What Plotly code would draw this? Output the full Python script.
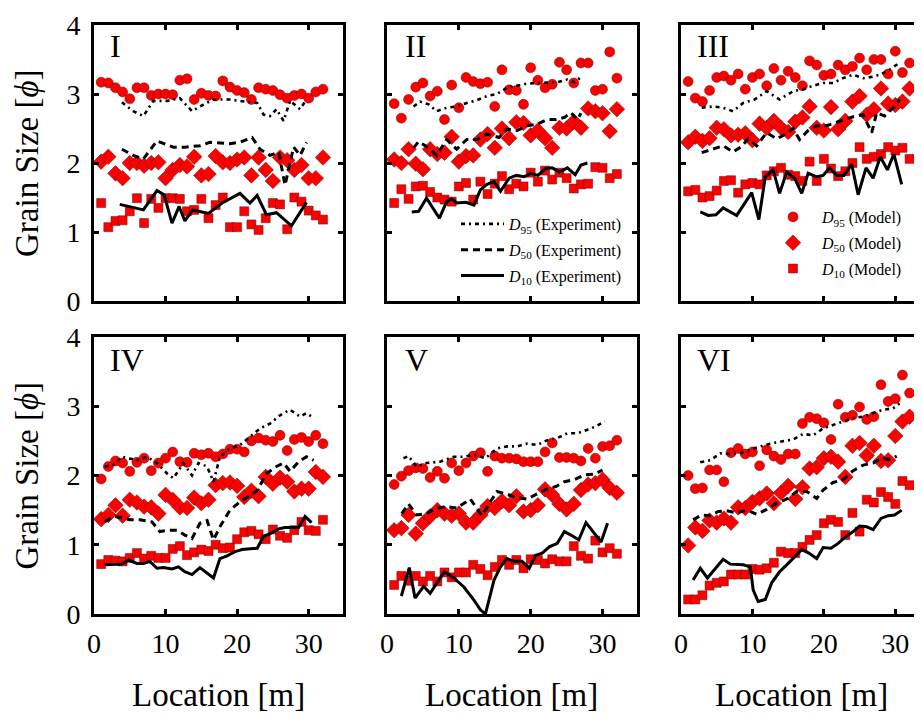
import plotly.graph_objects as go

# ---------------- data ----------------
LOC = [1, 2, 3, 4, 5, 6, 7, 8, 9, 10, 11, 12, 13, 14, 15, 16,
       17, 18, 19, 20, 21, 22, 23, 24, 25, 26, 27, 28, 29, 30, 31, 32]

# Panel I
I_M95 = [3.17,3.16,3.09,3.03,2.93,3.09,3.09,2.98,3.00,3.00,2.99,3.20,3.22,2.92,3.01,2.98,2.97,3.19,3.10,3.05,3.02,2.92,3.09,3.07,3.05,2.99,2.94,2.98,3.00,2.94,3.03,3.07]
I_M50 = [2.02,2.09,1.85,1.78,2.00,2.00,1.96,2.00,2.01,1.78,1.90,1.97,1.95,2.09,1.82,1.84,2.10,2.01,2.00,2.05,2.08,1.82,2.08,1.90,1.74,2.08,2.04,1.90,1.97,1.78,1.78,2.08]
I_M10 = [1.42,1.07,1.16,1.17,1.30,1.49,1.13,1.48,1.35,1.49,1.49,1.48,1.30,1.32,1.48,1.20,1.39,1.50,1.07,1.07,1.30,1.11,1.03,1.20,1.42,1.40,1.04,1.50,1.44,1.31,1.24,1.18]
I_E95_X = [3.9,5.5,6.9,8.3,10.2,12.0,13.7,14.8,16.7,19.0,20.4,22.8,23.7,24.6,25.5,26.5,27.4,28.8,29.7]
I_E95 = [2.88,2.75,2.68,2.90,2.90,2.94,2.75,2.82,2.92,2.92,2.90,2.87,2.70,2.68,2.78,2.61,2.90,2.78,2.92]
I_E50_X = [3.9,5.5,6.9,8.8,11.1,12.7,14.8,16.2,19.0,20.4,22.1,23.2,24.6,25.8,26.7,27.9,28.8,29.7]
I_E50 = [2.20,2.11,2.06,2.32,2.23,2.23,2.25,2.30,2.28,2.30,2.37,2.20,2.11,2.16,1.68,2.23,2.11,2.30]
I_E10_X = [3.6,6.9,8.8,9.8,10.9,11.9,12.7,13.8,16.0,17.9,20.4,21.8,22.8,24.1,25.5,27.6,29.7]
I_E10 = [1.40,1.32,1.60,1.54,1.13,1.37,1.16,1.32,1.27,1.42,1.56,1.42,1.53,1.25,1.28,1.09,1.43]

# Panel II
II_M95 = [2.86,2.65,2.92,3.10,3.16,2.97,3.04,2.63,3.13,2.80,3.24,3.18,3.15,3.17,2.82,3.35,3.06,3.05,2.85,3.38,3.20,3.09,3.14,3.46,3.35,3.16,3.45,3.45,3.05,3.07,3.61,3.23]
II_M50 = [2.05,2.00,2.20,1.99,1.91,2.20,2.13,2.15,2.38,2.02,2.10,2.11,2.34,2.42,2.22,2.50,2.36,2.59,2.58,2.40,2.47,2.36,2.22,2.51,2.50,2.60,2.51,2.79,2.75,2.72,2.46,2.78]
II_M10 = [1.42,1.62,1.48,1.66,1.67,1.58,1.50,1.47,1.44,1.66,1.71,1.47,1.73,1.55,1.70,1.81,1.62,1.70,1.66,1.86,1.73,1.89,1.76,1.86,1.78,1.63,1.69,1.70,1.94,1.93,1.78,1.84]
II_E95_X = [3.7,4.6,5.8,6.9,8.3,9.7,11.1,12.5,13.9,15.3,16.7,18.1,19.5,20.9,22.3,23.7,25.1,26.1,27.2]
II_E95 = [2.82,2.89,2.85,2.75,2.80,2.82,2.87,2.91,2.97,3.00,3.09,3.12,3.15,3.16,3.17,3.17,3.21,3.17,3.26]
II_E50_X = [3.7,4.4,5.5,6.9,8.3,9.7,11.1,12.5,13.9,15.6,16.7,18.1,19.5,20.9,22.3,23.5,24.7,25.6,26.5,27.0]
II_E50 = [2.22,2.31,2.24,2.11,2.34,2.20,2.34,2.34,2.42,2.37,2.49,2.47,2.54,2.56,2.63,2.63,2.66,2.73,2.63,2.72]
II_E10_X = [3.45,4.4,5.5,7.3,8.3,9.0,9.7,11.0,12.1,13.0,13.9,14.9,15.8,17.0,18.0,19.1,20.0,21.0,22.1,23.0,24.0,25.1,26.2,27.0,27.9]
II_E10 = [1.29,1.30,1.49,1.20,1.44,1.48,1.42,1.43,1.39,1.61,1.69,1.73,1.59,1.78,1.82,1.80,1.85,1.82,1.92,1.93,1.87,1.93,1.83,1.97,2.00]

# Panel III
III_M95 = [3.18,2.94,2.89,3.05,3.24,3.26,3.20,3.29,3.07,3.24,3.29,3.12,3.37,3.20,3.33,3.24,3.12,3.48,3.42,3.27,3.29,3.42,3.35,3.40,3.52,3.35,3.50,3.50,3.29,3.62,3.31,3.45]
III_M50 = [2.30,2.38,2.32,2.36,2.51,2.49,2.40,2.41,2.43,2.33,2.57,2.51,2.61,2.51,2.45,2.60,2.66,2.82,2.51,2.47,2.81,2.49,2.61,2.89,2.97,2.70,2.78,3.08,2.86,2.84,2.89,3.08]
III_M10 = [1.59,1.61,1.50,1.52,1.60,1.74,1.75,1.57,1.69,1.71,1.69,1.82,1.88,1.93,1.83,1.81,1.74,2.02,1.74,2.06,1.92,1.81,1.88,2.00,2.23,2.06,2.09,2.13,2.23,2.18,2.22,2.06]
III_E95_X = [2.9,4.5,5.9,7.3,8.7,10.3,12.0,13.8,15.7,17.1,18.5,19.9,21.3,22.7,24.1,25.5,26.9,28.1,29.2,30.4]
III_E95 = [2.80,2.82,2.80,2.75,2.87,2.92,3.04,2.92,3.04,3.07,3.12,3.16,3.16,3.23,3.28,3.23,3.25,3.29,3.35,3.44]
III_E50_X = [2.9,4.5,5.9,7.3,8.5,9.4,10.6,12.0,13.4,14.3,15.7,16.6,17.8,19.0,20.4,21.8,22.9,24.1,25.5,26.7,27.4,28.5,29.7,30.6]
III_E50 = [2.15,2.20,2.25,2.16,2.24,2.35,2.25,2.44,2.35,2.40,2.50,2.34,2.47,2.54,2.54,2.59,2.63,2.67,2.70,2.44,2.73,2.68,2.80,2.92]
III_E10_X = [2.7,3.8,4.9,5.9,7.8,9.9,10.9,11.8,12.9,13.8,14.8,15.9,16.9,17.8,19.0,19.9,20.8,21.8,22.8,23.9,24.8,25.9,26.9,27.9,28.9,29.8,30.9]
III_E10 = [1.29,1.24,1.25,1.35,1.24,1.57,1.18,1.80,1.90,1.56,1.87,1.78,1.56,1.85,1.80,1.82,1.93,1.82,1.82,1.98,1.54,1.93,1.78,2.09,1.90,2.13,1.69]

# Panel IV
IV_M95 = [1.95,2.13,2.21,2.18,2.06,2.19,2.25,2.07,2.18,2.25,2.34,2.20,2.19,2.32,2.30,2.32,2.27,2.31,2.38,2.38,2.34,2.50,2.54,2.51,2.49,2.58,2.36,2.52,2.55,2.49,2.58,2.46]
IV_M50 = [1.37,1.43,1.57,1.42,1.65,1.61,1.55,1.54,1.45,1.72,1.65,1.54,1.53,1.68,1.60,1.65,1.86,1.89,1.90,1.85,1.69,1.78,1.70,1.98,1.88,1.97,1.91,1.77,1.81,1.81,2.05,1.98]
IV_M10 = [0.72,0.78,0.77,0.76,0.81,0.88,0.80,0.84,0.81,0.81,0.94,0.98,0.85,0.89,0.93,0.91,1.00,0.95,0.96,1.08,1.18,1.20,1.15,1.08,1.22,1.13,1.10,1.21,1.33,1.21,1.20,1.36]
IV_E95_X = [1.5,2.7,3.9,4.8,6.0,7.4,8.8,10.2,11.1,12.5,13.7,14.6,15.8,16.7,17.6,19.0,20.4,21.8,23.2,24.6,26.0,27.4,28.8,29.7,30.7]
IV_E95 = [2.13,2.15,2.27,2.25,2.22,2.27,2.18,2.03,1.96,2.18,2.00,2.18,2.13,1.91,2.27,2.39,2.44,2.56,2.68,2.75,2.87,2.95,2.85,2.90,2.83]
IV_E50_X = [1.5,2.7,3.9,5.0,6.4,8.1,9.2,10.4,11.6,12.7,13.7,14.8,15.8,16.7,17.6,19.0,20.4,21.4,22.8,24.1,25.5,26.5,27.4,28.6,29.7,30.7]
IV_E50 = [1.33,1.41,1.39,1.36,1.36,1.33,1.19,1.21,1.21,1.14,1.09,1.31,1.35,1.07,1.26,1.50,1.62,1.69,1.78,2.03,2.13,2.18,2.06,2.20,2.27,2.22]
IV_E10_X = [1.5,2.7,3.9,4.8,6.0,6.9,7.8,8.8,9.7,10.9,11.8,12.7,13.7,14.8,16.7,17.6,18.6,19.7,20.7,22.8,23.7,24.6,25.8,26.7,27.9,28.6,29.5,30.4]
IV_E10 = [0.71,0.71,0.72,0.78,0.73,0.73,0.76,0.66,0.67,0.65,0.68,0.61,0.57,0.67,0.52,0.80,0.84,0.90,0.93,0.95,1.12,1.16,1.23,1.25,1.25,1.25,1.41,1.32]

# Panel V
V_M95 = [1.87,1.99,2.07,2.11,2.10,1.97,2.06,1.96,2.18,2.07,2.18,2.28,2.33,2.06,2.28,2.25,2.25,2.24,2.20,2.20,2.20,2.34,2.47,2.26,2.26,2.25,2.21,2.39,2.25,2.42,2.43,2.51]
V_M50 = [1.21,1.24,1.43,1.16,1.31,1.41,1.50,1.45,1.42,1.45,1.32,1.32,1.43,1.56,1.53,1.63,1.57,1.70,1.48,1.50,1.57,1.80,1.72,1.59,1.51,1.59,1.79,1.87,1.89,1.94,1.82,1.75]
V_M10 = [0.42,0.55,0.48,0.55,0.47,0.55,0.47,0.60,0.53,0.60,0.60,0.71,0.65,0.56,0.68,0.78,0.71,0.78,0.66,0.79,0.78,0.73,0.79,0.76,0.76,0.98,0.84,0.80,1.06,0.89,0.95,0.87]
V_E95_X = [2.3,3.0,4.1,5.5,7.4,9.3,10.7,12.1,13.7,15.3,16.7,18.1,19.5,20.9,22.3,23.7,25.1,26.5,27.9,29.1,30.3]
V_E95 = [2.25,2.28,2.13,2.18,2.20,2.27,2.27,2.30,2.25,2.39,2.42,2.42,2.46,2.44,2.51,2.54,2.61,2.61,2.66,2.71,2.78]
V_E50_X = [2.05,3.0,4.1,5.5,6.9,8.3,9.7,11.6,13.2,14.4,15.3,16.7,18.1,19.5,20.9,22.3,23.5,24.7,26.1,27.5,28.9,30.0]
V_E50 = [1.45,1.59,1.43,1.45,1.53,1.55,1.53,1.66,1.42,1.62,1.77,1.73,1.68,1.66,1.74,1.81,1.84,1.91,1.94,2.01,2.02,2.08]
V_E10_X = [2.0,3.1,3.9,5.1,6.0,8.0,9.3,10.7,12.1,13.0,13.7,14.9,15.8,16.7,17.7,18.8,19.8,20.7,21.6,22.6,23.7,24.7,25.6,26.7,27.7,28.9,29.8,30.7]
V_E10 = [0.26,0.67,0.23,0.40,0.30,0.61,0.52,0.39,0.20,0.06,0.00,0.49,0.68,0.80,0.76,0.76,0.66,0.85,0.88,0.97,1.02,1.19,1.14,1.07,1.32,1.16,1.04,1.31]

# Panel VI
VI_M95 = [2.00,1.81,1.82,2.08,2.08,1.91,2.33,2.39,2.31,2.34,2.14,2.37,2.28,2.23,2.31,2.31,2.75,2.84,2.82,2.76,2.52,3.03,2.84,2.87,2.99,2.81,2.85,3.31,3.07,3.11,3.45,3.19]
VI_M50 = [0.99,1.25,1.20,1.35,1.32,1.38,1.32,1.54,1.53,1.62,1.67,1.74,1.60,1.75,1.85,1.66,1.83,2.10,2.12,2.25,2.27,2.20,1.98,2.43,2.47,2.29,2.43,2.21,2.22,2.57,2.78,2.85]
VI_M10 = [0.21,0.21,0.27,0.41,0.45,0.47,0.57,0.57,0.57,0.65,0.64,0.66,0.74,0.90,0.88,0.88,0.97,1.07,1.14,1.31,1.36,1.33,1.14,1.46,1.19,1.65,1.61,1.76,1.69,1.59,1.92,1.86]
VI_E95_X = [2.7,4.1,5.5,6.9,8.3,9.7,11.0,12.9,14.3,15.7,17.1,18.5,19.9,21.3,22.7,24.1,25.5,26.9,28.3,29.7,30.6]
VI_E95 = [2.19,2.22,2.32,2.31,2.32,2.37,2.42,2.47,2.49,2.52,2.60,2.58,2.68,2.73,2.78,2.83,2.85,2.90,2.95,2.97,3.04]
VI_E50_X = [1.7,2.9,4.1,5.2,6.4,7.8,9.2,10.6,12.0,13.4,14.8,16.2,17.6,19.0,19.9,21.3,22.7,24.1,25.5,26.9,28.1,29.2,30.2]
VI_E50 = [1.36,1.43,1.42,1.48,1.49,1.46,1.50,1.44,1.51,1.60,1.66,1.77,1.77,1.67,1.79,1.90,1.94,2.07,2.15,2.18,2.25,2.23,2.28]
VI_E10_X = [1.7,2.7,3.7,4.8,5.9,6.9,7.8,8.7,9.7,10.1,10.8,11.8,12.7,13.8,14.8,15.9,16.9,17.9,19.0,19.9,21.0,22.0,23.0,24.1,25.0,26.0,26.9,28.0,29.0,29.9,30.9]
VI_E10 = [0.49,0.66,0.52,0.66,0.79,0.72,0.72,0.71,0.68,0.35,0.18,0.21,0.45,0.61,0.71,0.83,0.93,0.88,0.80,0.96,0.95,1.02,1.11,1.19,1.27,1.26,1.22,1.38,1.42,1.43,1.50]

PANEL_LABELS = ["I", "II", "III", "IV", "V", "VI"]
X_TICKS = [0, 10, 20, 30]
Y_TICKS = [0, 1, 2, 3, 4]

PANELS = [
    (I_M95, I_M50, I_M10, I_E95_X, I_E95, I_E50_X, I_E50, I_E10_X, I_E10),
    (II_M95, II_M50, II_M10, II_E95_X, II_E95, II_E50_X, II_E50, II_E10_X, II_E10),
    (III_M95, III_M50, III_M10, III_E95_X, III_E95, III_E50_X, III_E50, III_E10_X, III_E10),
    (IV_M95, IV_M50, IV_M10, IV_E95_X, IV_E95, IV_E50_X, IV_E50, IV_E10_X, IV_E10),
    (V_M95, V_M50, V_M10, V_E95_X, V_E95, V_E50_X, V_E50, V_E10_X, V_E10),
    (VI_M95, VI_M50, VI_M10, VI_E95_X, VI_E95, VI_E50_X, VI_E50, VI_E10_X, VI_E10),
]

# ---------------- styling / layout ----------------
W, H = 922, 719
OFF = 8  # the page body margin shifts the figure by this many px
FONT = "Liberation Serif, Times New Roman, Times, serif"
COL_PX = [(94, 343), (387, 637), (681, 921)]
ROW_PX = [(25, 301), (337, 614)]
X_MAX = [34.8, 34.8, 33.6]
RED = "#ff0000"
MK_LINE = dict(color="rgba(90,20,20,0.85)", width=0.6)


def fx(px):
    return (px - OFF) / W


def fy(py):
    return (H - (py - OFF)) / H


fig = go.Figure()

for k, p in enumerate(PANELS):
    m95, m50, m10, e95x, e95, e50x, e50, e10x, e10 = p
    sfx = "" if k == 0 else str(k + 1)
    xa, ya = "x" + sfx, "y" + sfx
    first = (k == 0)
    # model markers
    fig.add_trace(go.Scatter(x=LOC, y=m95, mode="markers", xaxis=xa, yaxis=ya,
                             marker=dict(symbol="circle", size=10, color=RED, line=MK_LINE),
                             name="<i>D</i><sub>95</sub> (Model)", legend="legend2",
                             legendgroup="m95", showlegend=first))
    fig.add_trace(go.Scatter(x=LOC, y=m50, mode="markers", xaxis=xa, yaxis=ya,
                             marker=dict(symbol="diamond", size=12, color=RED, line=MK_LINE),
                             name="<i>D</i><sub>50</sub> (Model)", legend="legend2",
                             legendgroup="m50", showlegend=first))
    fig.add_trace(go.Scatter(x=LOC, y=m10, mode="markers", xaxis=xa, yaxis=ya,
                             marker=dict(symbol="square", size=9, color=RED, line=MK_LINE),
                             name="<i>D</i><sub>10</sub> (Model)", legend="legend2",
                             legendgroup="m10", showlegend=first))
    # experiment lines
    fig.add_trace(go.Scatter(x=e95x, y=e95, mode="lines", xaxis=xa, yaxis=ya,
                             line=dict(color="black", width=2.6, dash="4px,4px,2px,4px"),
                             name="<i>D</i><sub>95</sub> (Experiment)", legend="legend",
                             legendgroup="e95", showlegend=first))
    fig.add_trace(go.Scatter(x=e50x, y=e50, mode="lines", xaxis=xa, yaxis=ya,
                             line=dict(color="black", width=3, dash="7px,5px"),
                             name="<i>D</i><sub>50</sub> (Experiment)", legend="legend",
                             legendgroup="e50", showlegend=first))
    fig.add_trace(go.Scatter(x=e10x, y=e10, mode="lines", xaxis=xa, yaxis=ya,
                             line=dict(color="black", width=3),
                             name="<i>D</i><sub>10</sub> (Experiment)", legend="legend",
                             legendgroup="e10", showlegend=first))

axis_common = dict(showline=True, linewidth=2.6, linecolor="black", mirror="ticks",
                   ticks="inside", ticklen=5, tickwidth=2.6, tickcolor="black",
                   showgrid=False, zeroline=False, automargin=False,
                   ticklabeloverflow="allow",
                   tickfont=dict(family=FONT, size=28, color="black"))

layout_axes = {}
for k in range(6):
    r, c = divmod(k, 3)
    sfx = "" if k == 0 else str(k + 1)
    x0, x1 = COL_PX[c]
    y0, y1 = ROW_PX[r]
    layout_axes["xaxis" + sfx] = dict(
        axis_common, domain=[fx(x0), fx(x1)], range=[0, X_MAX[c]],
        anchor="y" + sfx, tickvals=X_TICKS, showticklabels=(r == 1),
        ticklabelstandoff=3)
    layout_axes["yaxis" + sfx] = dict(
        axis_common, domain=[fy(y1), fy(y0)], range=[0, 4],
        anchor="x" + sfx, tickvals=Y_TICKS, showticklabels=(c == 0),
        ticklabelstandoff=5)

annotations = []
label_dx = [14, 16, 14]
label_dy = [21, 23]
for k, lab in enumerate(PANEL_LABELS):
    r, c = divmod(k, 3)
    annotations.append(dict(text=lab, xref="paper", yref="paper",
                            x=fx(COL_PX[c][0] + label_dx[c]),
                            y=fy(ROW_PX[r][0] + label_dy[r]),
                            xanchor="left", yanchor="middle", showarrow=False,
                            font=dict(family=FONT, size=32, color="black")))
for r in range(2):
    yc = (ROW_PX[r][0] + ROW_PX[r][1]) / 2
    annotations.append(dict(text="Grain Size [<i>\u03d5</i>]", xref="paper", yref="paper",
                            x=fx(27), y=fy(yc), textangle=-90,
                            xanchor="center", yanchor="middle", showarrow=False,
                            font=dict(family=FONT, size=33, color="black")))
for c in range(3):
    xc = (COL_PX[c][0] + COL_PX[c][1]) / 2
    annotations.append(dict(text="Location [m]", xref="paper", yref="paper",
                            x=fx(xc), y=fy(695),
                            xanchor="center", yanchor="middle", showarrow=False,
                            font=dict(family=FONT, size=33, color="black")))

legend_common = dict(bgcolor="rgba(0,0,0,0)", borderwidth=0,
                     tracegroupgap=2, xanchor="left", yanchor="top",
                     font=dict(family=FONT, size=16, color="black"))

fig.update_layout(
    width=W, height=H,
    margin=dict(l=0, r=0, t=0, b=0, pad=0, autoexpand=False),
    paper_bgcolor="white", plot_bgcolor="white",
    showlegend=True,
    legend=dict(legend_common, itemwidth=43, x=fx(456), y=fy(207)),
    legend2=dict(legend_common, itemwidth=48, x=fx(764), y=fy(200)),
    annotations=annotations,
    **layout_axes,
)

fig.write_html("out.html")
